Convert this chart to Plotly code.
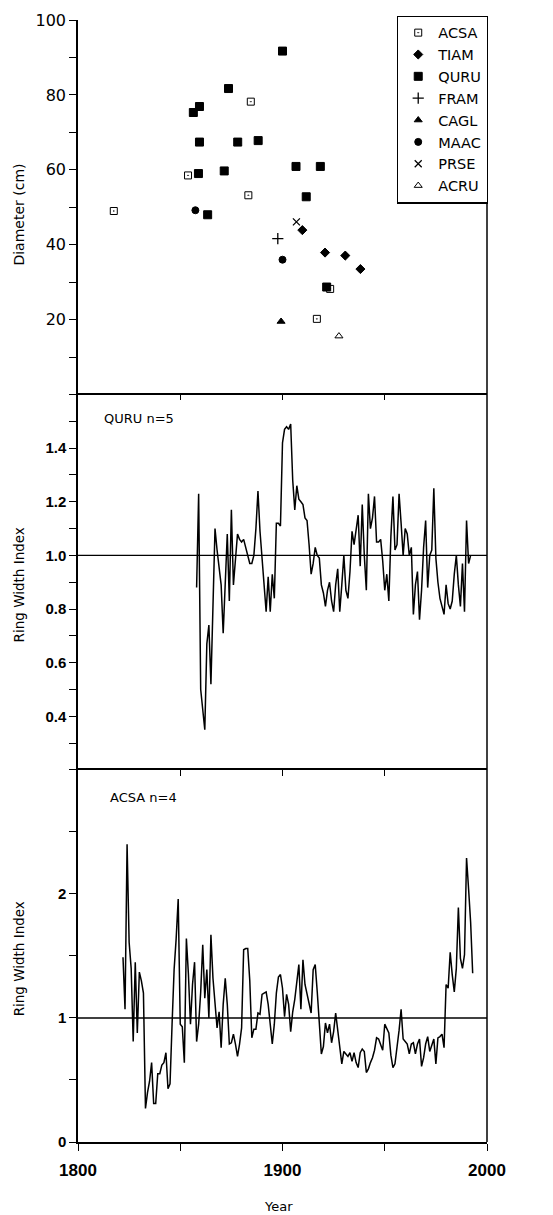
import plotly.graph_objects as go

# ---------------- data ----------------
# Panel 1: tree establishment year vs diameter
acsa_year = [1817.5, 1853.8, 1884.5, 1883.3, 1916.8, 1923.3]
acsa_diam = [49.0, 58.5, 78.2, 53.2, 20.2, 28.2]
tiam_year = [1909.7, 1920.8, 1930.7, 1938.1]
tiam_diam = [43.9, 37.9, 37.1, 33.5]
quru_year = [1900.0, 1873.6, 1856.4, 1859.4, 1859.4, 1878.1, 1888.1, 1858.9,
             1871.5, 1906.6, 1918.5, 1911.6, 1863.4, 1921.6]
quru_diam = [91.7, 81.7, 75.3, 76.9, 67.4, 67.4, 67.8, 59.0,
             59.7, 60.9, 60.9, 52.8, 48.0, 28.7]
fram_year = [1897.7]
fram_diam = [41.6]
cagl_year = [1899.3]
cagl_diam = [19.5]
maac_year = [1857.4, 1900.0]
maac_diam = [49.2, 36.0]
prse_year = [1906.8]
prse_diam = [46.1]
acru_year = [1927.6]
acru_diam = [15.6]

# Panel 2: QURU ring width index chronology (annual, from 1858)
quru_start = 1858
quru_rwi = [0.88, 1.23, 0.50, 0.43, 0.35, 0.67, 0.74, 0.52, 0.78, 1.10,
            1.02, 0.95, 0.89, 0.71, 0.89, 1.08, 0.83, 1.17, 0.89, 1.00,
            1.08, 1.06, 1.05, 1.06, 1.03, 0.99, 0.97, 0.97, 1.00, 1.10,
            1.24, 1.09, 1.00, 0.90, 0.79, 0.92, 0.79, 0.93, 0.84, 1.12,
            1.12, 1.11, 1.42, 1.47, 1.48, 1.47, 1.49, 1.28, 1.17, 1.26,
            1.21, 1.20, 1.19, 1.14, 1.13, 1.04, 0.93, 0.97, 1.03, 1.00,
            0.99, 0.89, 0.86, 0.81, 0.87, 0.90, 0.83, 0.79, 0.89, 0.95,
            0.79, 0.89, 1.00, 0.87, 0.84, 0.94, 1.09, 1.04, 1.10, 1.15,
            0.96, 1.19, 1.00, 0.87, 1.23, 1.10, 1.14, 1.22, 1.05, 1.05,
            1.06, 0.98, 0.87, 0.93, 0.83, 1.07, 1.22, 1.02, 1.04, 1.23,
            1.12, 1.00, 1.10, 1.08, 1.00, 1.03, 0.78, 0.89, 0.94, 0.76,
            0.87, 1.03, 1.13, 0.88, 1.00, 1.02, 1.25, 0.99, 0.90, 0.84,
            0.81, 0.78, 0.89, 0.82, 0.80, 0.83, 0.93, 1.00, 0.89, 0.81,
            0.97, 0.79, 1.13, 0.97, 1.00]

# Panel 3: ACSA ring width index chronology (annual, from 1822)
acsa_start = 1822
acsa_rwi = [1.49, 1.07, 2.40, 1.61, 1.40, 0.81, 1.45, 0.88, 1.37, 1.30,
            1.20, 0.27, 0.40, 0.49, 0.64, 0.31, 0.31, 0.55, 0.55, 0.62,
            0.64, 0.72, 0.43, 0.47, 0.95, 1.39, 1.64, 1.96, 0.95, 0.93,
            0.64, 1.64, 1.35, 0.95, 1.27, 1.45, 0.81, 0.95, 1.21, 1.59,
            1.16, 1.39, 1.00, 1.67, 1.32, 1.11, 0.92, 1.05, 0.76, 1.11,
            1.32, 1.11, 0.79, 0.80, 0.87, 0.79, 0.69, 0.79, 0.92, 1.55,
            1.56, 1.56, 1.30, 0.84, 0.91, 0.91, 1.04, 1.03, 1.19, 1.20,
            1.21, 1.11, 0.95, 0.79, 0.95, 1.20, 1.33, 1.35, 1.24, 1.01,
            1.19, 1.11, 0.89, 1.05, 1.15, 1.27, 1.43, 1.07, 1.47, 1.27,
            1.19, 1.11, 1.04, 1.39, 1.43, 1.21, 0.97, 0.71, 0.77, 0.96,
            0.88, 0.95, 0.80, 0.89, 1.04, 0.89, 0.76, 0.63, 0.73, 0.71,
            0.69, 0.72, 0.65, 0.72, 0.64, 0.60, 0.72, 0.75, 0.73, 0.56,
            0.59, 0.64, 0.68, 0.74, 0.84, 0.83, 0.79, 0.74, 0.95, 0.92,
            0.88, 0.70, 0.60, 0.63, 0.76, 0.90, 1.07, 0.83, 0.81, 0.79,
            0.71, 0.79, 0.80, 0.71, 0.79, 0.83, 0.61, 0.68, 0.79, 0.85,
            0.73, 0.78, 0.83, 0.63, 0.84, 0.85, 0.87, 0.76, 1.27, 1.24,
            1.53, 1.35, 1.21, 1.40, 1.89, 1.48, 1.40, 1.51, 2.29, 2.04,
            1.77, 1.36]

# reference index level and the year span of the axes
ref_index = 1.0
year_span = [1800, 2000]

# Axis ticks
year_ticks = [1800, 1850, 1900, 1950, 2000]
year_labels = ["1800", "", "1900", "", "2000"]
inner_year_ticks = [1850, 1900, 1950]
diam_ticks = [0, 10, 20, 30, 40, 50, 60, 70, 80, 90, 100]
diam_labels = ["", "", "20", "", "40", "", "60", "", "80", "", "100"]
quru_ticks = [0.2, 0.3, 0.4, 0.5, 0.6, 0.7, 0.8, 0.9, 1.0, 1.1, 1.2, 1.3, 1.4, 1.5, 1.6]
quru_labels = ["", "", "0.4", "", "0.6", "", "0.8", "", "1.0", "", "1.2", "", "1.4", "", ""]
acsa_ticks = [0, 0.5, 1, 1.5, 2, 2.5, 3]
acsa_labels = ["0", "", "1", "", "2", "", ""]

# ---------------- figure ----------------
SANS = "DejaVu Sans"
HELV = "Liberation Sans, Arial, sans-serif"

fig = go.Figure()

species = [
    ("ACSA", acsa_year, acsa_diam, "square-open-dot", 7, 1),
    ("TIAM", tiam_year, tiam_diam, "diamond", 7, 1),
    ("QURU", quru_year, quru_diam, "square", 8, 1),
    ("FRAM", fram_year, fram_diam, "cross-thin-open", 8, 1.3),
    ("CAGL", cagl_year, cagl_diam, "triangle-up", 7, 1),
    ("MAAC", maac_year, maac_diam, "circle", 7, 1),
    ("PRSE", prse_year, prse_diam, "x-thin-open", 7, 1.3),
    ("ACRU", acru_year, acru_diam, "triangle-up-open", 7, 1),
]
for name, xs, ys, sym, size, lw in species:
    fig.add_trace(go.Scatter(x=xs, y=ys, mode="markers", name=name,
                             marker=dict(symbol=sym, size=size, color="black",
                                         line=dict(color="black", width=lw)),
                             xaxis="x3", yaxis="y3"))

quru_years = list(range(quru_start, quru_start + len(quru_rwi)))
acsa_years = list(range(acsa_start, acsa_start + len(acsa_rwi)))

ref_style = dict(color="black", width=1.3)
series_style = dict(color="black", width=1.5)
fig.add_trace(go.Scatter(x=year_span, y=[ref_index, ref_index], mode="lines",
                         line=ref_style, showlegend=False, hoverinfo="skip",
                         xaxis="x2", yaxis="y2"))
fig.add_trace(go.Scatter(x=quru_years, y=quru_rwi, mode="lines",
                         line=series_style, showlegend=False, xaxis="x2", yaxis="y2"))
fig.add_trace(go.Scatter(x=year_span, y=[ref_index, ref_index], mode="lines",
                         line=ref_style, showlegend=False, hoverinfo="skip",
                         xaxis="x4", yaxis="y"))
fig.add_trace(go.Scatter(x=acsa_years, y=acsa_rwi, mode="lines",
                         line=series_style, showlegend=False, xaxis="x", yaxis="y"))

d3 = [0.0, 0.3316]
d2 = [0.3316, 0.6662]
d1 = [0.6662, 1.0]

axis_line = dict(showline=True, linecolor="black", linewidth=1.5,
                 showgrid=False, zeroline=False)
tick_style = dict(tickcolor="black", tickwidth=1.3)

fig.update_layout(
    width=553, height=1215,
    margin=dict(l=78, r=66, t=11, b=73),
    paper_bgcolor="white", plot_bgcolor="white",
    font=dict(family=SANS, color="black"),
    xaxis=dict(domain=[0, 1], anchor="y", range=year_span,
               tickmode="array", tickvals=year_ticks, ticktext=year_labels,
               ticks="outside", ticklen=7, ticklabelstandoff=5,
               tickfont=dict(family=HELV, size=17, weight="bold"),
               **tick_style, **axis_line),
    xaxis4=dict(overlaying="x", anchor="y", side="top", range=year_span,
                tickmode="array", tickvals=inner_year_ticks,
                ticks="inside", ticklen=6, showticklabels=False,
                **tick_style, **axis_line),
    xaxis2=dict(domain=[0, 1], anchor="y2", side="top", range=year_span,
                tickmode="array", tickvals=inner_year_ticks,
                ticks="inside", ticklen=6, showticklabels=False,
                **tick_style, **axis_line),
    xaxis3=dict(domain=[0, 1], anchor="y3", range=year_span,
                ticks="", showticklabels=False,
                showline=False, showgrid=False, zeroline=False),
    yaxis=dict(domain=d3, anchor="x", range=[0, 3],
               tickmode="array", tickvals=acsa_ticks, ticktext=acsa_labels,
               ticks="outside", ticklen=7,
               tickfont=dict(family=HELV, size=15, weight="bold"),
               **tick_style, **axis_line),
    yaxis2=dict(domain=d2, anchor="x2", range=[0.2, 1.6],
                tickmode="array", tickvals=quru_ticks, ticktext=quru_labels,
                ticks="outside", ticklen=7,
                tickfont=dict(family=HELV, size=15, weight="bold"),
                **tick_style, **axis_line),
    yaxis3=dict(domain=d1, anchor="x3", range=[0, 100],
                tickmode="array", tickvals=diam_ticks, ticktext=diam_labels,
                ticks="outside", ticklen=7,
                tickfont=dict(family=SANS, size=16),
                **tick_style, **axis_line),
    legend=dict(x=0.78, y=1.004, xanchor="left", yanchor="top",
                bgcolor="white", bordercolor="black", borderwidth=1.2,
                font=dict(family=SANS, size=14.5, color="black"),
                itemwidth=30),
    showlegend=True,
)

# frame: right border over full height
fig.add_shape(type="line", xref="paper", yref="paper", x0=1, x1=1, y0=0, y1=1,
              line=dict(color="black", width=1.5))

ann = [
    dict(text="QURU n=5", x=0.0587, y=0.6446, xanchor="left", yanchor="middle",
         font=dict(size=13)),
    dict(text="ACSA n=4", x=0.0733, y=0.3068, xanchor="left", yanchor="middle",
         font=dict(size=13)),
    dict(text="Diameter (cm)", x=-0.144, y=0.8267, xanchor="center", yanchor="middle",
         textangle=-90, font=dict(size=14)),
    dict(text="Ring Width Index", x=-0.142, y=0.4969, xanchor="center", yanchor="middle",
         textangle=-90, font=dict(size=13.5)),
    dict(text="Ring Width Index", x=-0.142, y=0.1636, xanchor="center", yanchor="middle",
         textangle=-90, font=dict(size=13.5)),
    dict(text="Year", x=0.489, y=-0.0575, xanchor="center", yanchor="middle",
         font=dict(size=13)),
]
for a in ann:
    a.update(xref="paper", yref="paper", showarrow=False)
    a["font"] = dict(family=SANS, color="black", **a["font"])
    fig.add_annotation(**a)

fig.write_html("out.html")
